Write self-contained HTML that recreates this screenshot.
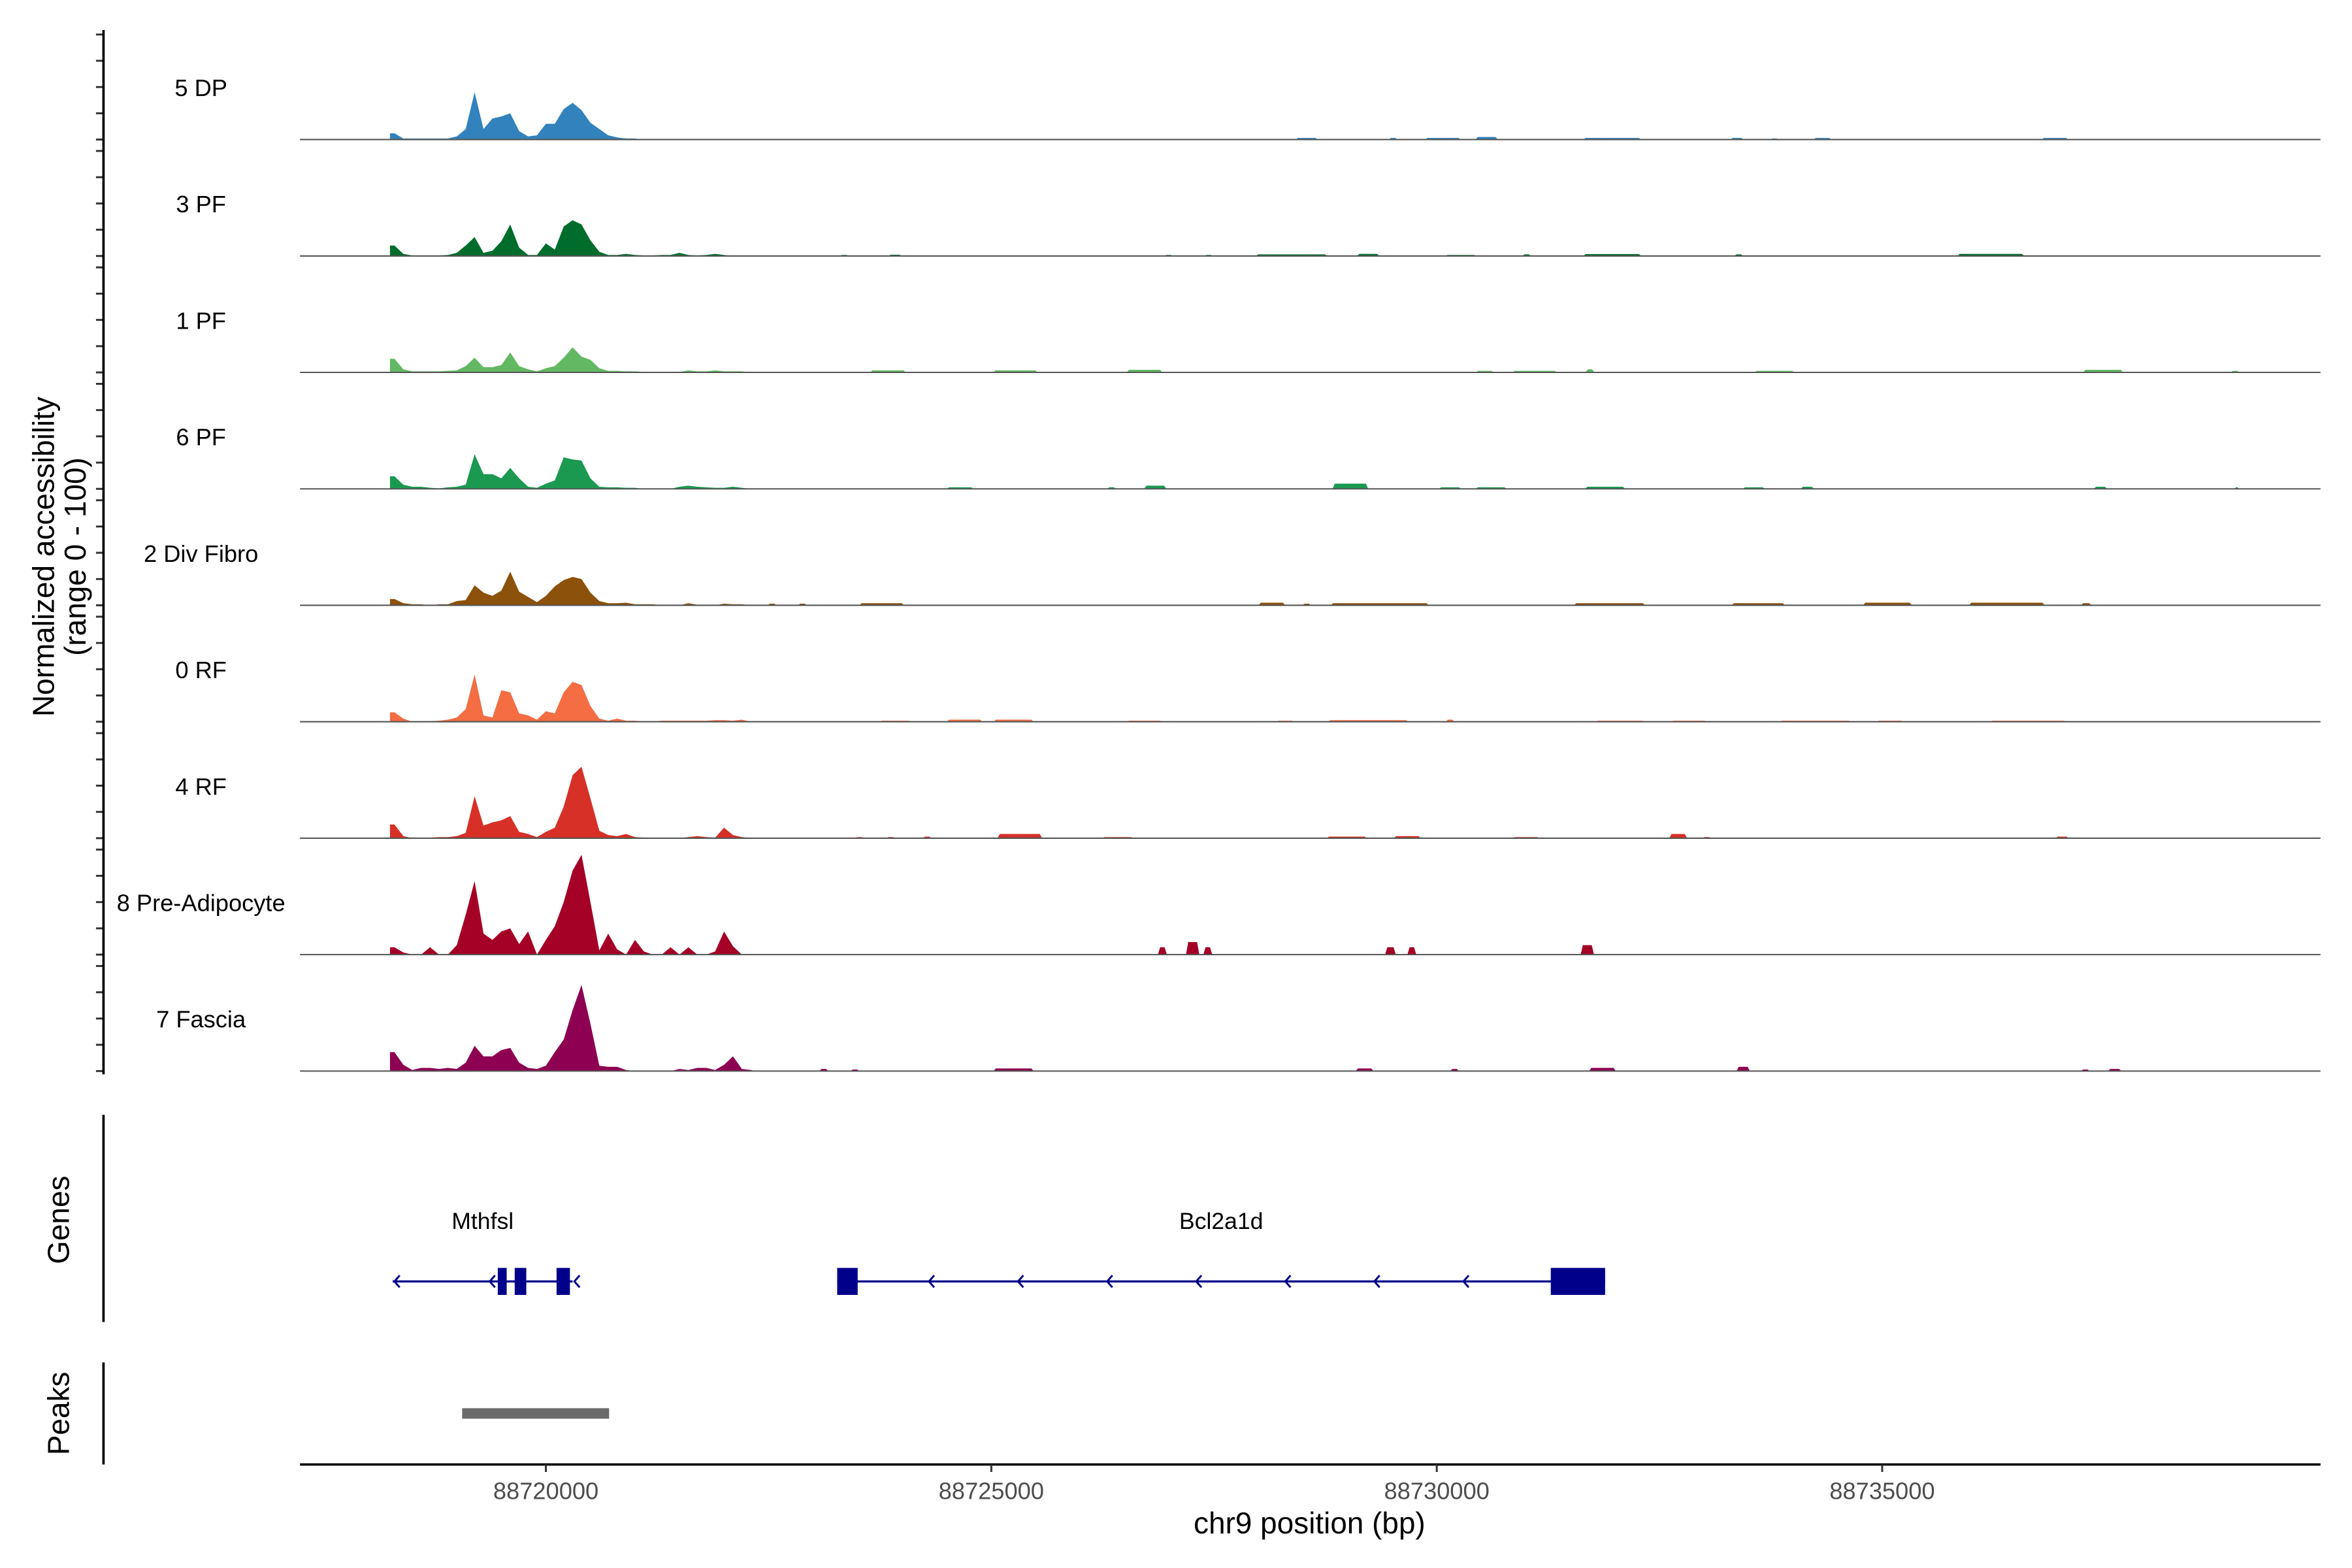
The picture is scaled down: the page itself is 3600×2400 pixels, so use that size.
<!DOCTYPE html>
<html><head><meta charset="utf-8"><style>
html,body{margin:0;padding:0;background:#fff;}
svg{display:block;font-family:"Liberation Sans",Arial,sans-serif;}
</style></head><body>
<svg id="chart" width="3600" height="2400" viewBox="0 0 1568 1045" preserveAspectRatio="none" xmlns="http://www.w3.org/2000/svg">
<rect x="0" y="0" width="1568" height="1045" fill="#fff"/>
<g id="tracks"></g>
<g id="yaxis"></g>
<text transform="translate(36,371) rotate(-90)" text-anchor="middle" font-size="20" fill="#000">Normalized accessibility</text>
<text transform="translate(57,371) rotate(-90)" text-anchor="middle" font-size="20" fill="#000">(range 0 - 100)</text>
<g id="genes"></g>
<text transform="translate(46,813) rotate(-90)" text-anchor="middle" font-size="20" fill="#000">Genes</text>
<line x1="69" y1="743" x2="69" y2="881" stroke="#000" stroke-width="1.6"/>
<g id="peaks"></g>
<text transform="translate(46,942) rotate(-90)" text-anchor="middle" font-size="20" fill="#000">Peaks</text>
<line x1="69" y1="908" x2="69" y2="976" stroke="#000" stroke-width="1.6"/>
<g id="xaxis"></g>
<text x="873" y="1022" text-anchor="middle" font-size="20" fill="#000">chr9 position (bp)</text>
</svg>
<script>
// ---- data (positions in kb on chr9, values are normalized accessibility 0-100) ----
const trackNames = ["5 DP","3 PF","1 PF","6 PF","2 Div Fibro","0 RF","4 RF","8 Pre-Adipocyte","7 Fascia"];
const trackColors = ["#3182bd","#006d2c","#63b863","#1b9950","#8c510a","#f46d43","#d73027","#a50026","#8e0152"];
const binStartKb = 88718.25;
const binSizeKb = 0.1;
const cov5DP = [6,1,1,1,1,1,1,3,10,45,10,20,22,25,8,3,4,15,15,29,35,28,16,10,4,2,1,1,0,0,0,0,0,0,0,0,0,0,0,0,0];
const cov3PF = [10,2,0.5,0.5,0.5,0.5,1,3,10,18,3,5,14,30,8,1,1,12,6,28,34,30,15,4,1,1,2,1,0.5,0.5,1,1,3,1,0.5,1,2,1,0,0,0];
const cov1PF = [13,3,1,1,1,1,1.5,2,6,14,5,5,7,19,6,3,1,4,6,14,24,15,12,4,1.5,1.5,1,1,0.5,0,0,0,0.5,2,1,1,2,1,1,1,0];
const cov6PF = [12,4,2,2,1,0.5,1.5,2,4,33,14,14,10,20,10,2,1,5,8,30,28,27,10,2,1.5,1.5,1,1,0,0,0,0,2,3,2,1.5,1,1,2,1,0];
const cov2DF = [6,2,1,1,0,1,1,4,5,19,12,9,14,32,13,8,3,9,18,24,27,25,12,4,2,2,2.5,1,1,1,0,0,0,2,0.5,0,0,1.5,1,1,0];
const cov0RF = [9,3,0,0,0.5,1,2,4,12,45,6,4,30,28,8,6,2,10,8,28,38,35,15,3,1,3,1,1,0,0,1,1,1,1,1,1,1.5,1.5,1,2,0];
const cov4RF = [13,2,0,0,0.5,1,1,2,5,40,12,15,17,21,6,4,1,6,10,30,60,68,38,7,3,2,4,1,0.5,0.5,0.5,0,0,1,2,1,0.5,10,3,1,0];
const cov8PA = [7,2,0,0,7,0,0,9,38,70,20,14,22,25,10,22,0,14,27,50,80,95,50,4,20,5,0,14,3,0,0,7,0,7,0,0,3,22,8,0,0];
const cov7FA = [18,6,1,3,3,2,3,2,8,24,14,14,20,22,8,3,2,5,18,30,58,82,45,5,4,4,1,0,0,0,0,0,2,1,3,3,1,6,14,2,1];
// distant small peaks: [centerKb, widthKb, value]
const bumps5DP = [[88728.54,0.25,1.5],[88729.51,0.1,1.5],[88730.07,0.4,1.5],[88730.56,0.25,2.5],[88731.97,0.65,1.5],[88733.37,0.15,1.5],[88733.79,0.1,1],[88734.33,0.2,1.5],[88736.94,0.3,1.5]];
const bumps3PF = [[88723.35,0.1,1],[88723.92,0.15,1.2],[88726.99,0.1,1],[88727.44,0.1,1],[88728.37,0.8,1.5],[88729.23,0.25,2],[88730.27,0.35,1],[88731.01,0.1,1.5],[88731.97,0.65,1.8],[88733.39,0.1,1.5],[88736.22,0.75,2]];
const bumps1PF = [[88723.84,0.4,2],[88725.27,0.5,2],[88726.72,0.4,2.5],[88730.54,0.2,1.5],[88731.10,0.5,1.5],[88731.72,0.1,3],[88733.79,0.45,1.5],[88737.48,0.45,2.5],[88738.96,0.1,1.5]];
const bumps6PF = [[88724.65,0.3,1.5],[88726.35,0.1,1.5],[88726.84,0.25,3],[88729.03,0.4,5],[88730.15,0.25,1.5],[88730.61,0.35,1.5],[88731.89,0.45,2],[88733.56,0.25,1.5],[88734.16,0.15,2],[88737.45,0.15,2],[88738.98,0.05,1.5]];
const bumps2DF = [[88722.54,0.1,1.5],[88722.88,0.1,1.5],[88723.77,0.5,2],[88728.15,0.3,2.5],[88728.54,0.1,1.5],[88729.36,1.1,2],[88731.94,0.8,2],[88733.61,0.6,2],[88735.06,0.55,2.5],[88736.40,0.85,2.5],[88737.29,0.12,2]];
const bumps0RF = [[88723.92,0.35,1],[88724.70,0.4,2],[88725.25,0.45,2],[88726.72,0.4,1],[88728.30,0.2,1],[88729.23,0.9,1.5],[88730.15,0.1,2],[88732.06,0.55,1],[88732.83,0.4,1],[88734.25,0.8,1],[88735.09,0.3,1],[88736.64,0.85,1]];
const bumps4RF = [[88723.52,0.1,1],[88723.87,0.1,1],[88724.28,0.1,1.5],[88725.32,0.5,4],[88726.42,0.35,1],[88728.99,0.45,1.5],[88729.67,0.3,2],[88731.00,0.3,1],[88732.71,0.2,4],[88733.03,0.1,1],[88737.02,0.15,1.5]];
const bumps8PA = [[88726.92,0.1,7],[88727.26,0.15,12],[88727.43,0.1,7],[88729.48,0.12,7],[88729.72,0.1,7],[88731.69,0.15,9]];
const bumps7FA = [[88723.12,0.1,2],[88723.47,0.1,1.5],[88725.25,0.45,2.5],[88729.19,0.2,2.5],[88730.20,0.1,2],[88731.86,0.3,3],[88733.44,0.15,4],[88737.28,0.1,1.5],[88737.61,0.15,2]];
const coverage = [cov5DP,cov3PF,cov1PF,cov6PF,cov2DF,cov0RF,cov4RF,cov8PA,cov7FA];
const bumps = [bumps5DP,bumps3PF,bumps1PF,bumps6PF,bumps2DF,bumps0RF,bumps4RF,bumps8PA,bumps7FA];
const xTicks = [88720000,88725000,88730000,88735000];
const xTickLabels = ["88720000","88725000","88730000","88735000"];
const yTicks = [0,25,50,75,100];
const geneNames = ["Mthfsl","Bcl2a1d"];
const geneSpans = [[88718.28,88720.30],[88723.27,88731.89]];
const geneExons = [[[88719.46,88719.56],[88719.65,88719.78],[88720.12,88720.27]],[[88723.27,88723.50],[88731.28,88731.89]]];
const geneChevrons = [[88718.30,88719.37,88720.32],[88724.30,88725.30,88726.30,88727.30,88728.30,88729.30,88730.30]];
const peakRanges = [[88719.06,88720.71]];

// ---- scales ----
const NS = "http://www.w3.org/2000/svg";
const xMinKb = 88717.24, xMaxKb = 88739.92, plotL = 200, plotR = 1547;
function xs(kb){ return plotL + (kb - xMinKb) / (xMaxKb - xMinKb) * (plotR - plotL); }
const base0 = 93, trackStep = 77.6, yPx = 0.7;
function baseY(i){ return base0 + i * trackStep; }
function ys(i, v){ return baseY(i) - v * yPx; }
function mk(tag, attrs, parent){ const e = document.createElementNS(NS, tag); for (const k in attrs) e.setAttribute(k, attrs[k]); parent.appendChild(e); return e; }

const gT = document.getElementById('tracks');
const gY = document.getElementById('yaxis');
for (let i = 0; i < trackNames.length; i++){
  const col = trackColors[i], b = baseY(i), cov = coverage[i];
  let d = "M" + xs(binStartKb) + "," + b;
  cov.forEach((v, j) => {
    const xc = xs(binStartKb + binSizeKb * (j + 0.5));
    if (j === 0) d += " L" + xs(binStartKb) + "," + ys(i, v);
    d += " L" + xc + "," + ys(i, v);
  });
  const endKb = binStartKb + binSizeKb * cov.length;
  d += " L" + xs(endKb) + "," + b + " Z";
  const p = mk('path', {d: d, fill: col, stroke: 'none'}, gT);
  
  
  bumps[i].forEach(bp => {
    const x0 = xs(bp[0] - bp[1] / 2), x1 = xs(bp[0] + bp[1] / 2), yv = ys(i, bp[2]);
    const w = Math.min(1.5, (x1 - x0) / 3);
    const q = mk('path', {d: "M" + x0 + "," + b + " L" + (x0 + w) + "," + yv + " L" + (x1 - w) + "," + yv + " L" + x1 + "," + b + " Z", fill: col}, gT);
    
    
  });
  const ln = mk('line', {x1: plotL, x2: plotR, y1: b, y2: b, stroke: '#555', 'stroke-width': 0.9}, gT);
  
  
  const t = mk('text', {x: 134, y: b - 29, 'text-anchor': 'middle', 'font-size': 15.8, fill: '#000'}, gT);
  t.textContent = trackNames[i];
  
  
  yTicks.forEach(v => {
    const tk = mk('line', {x1: 64, x2: 69, y1: ys(i, v), y2: ys(i, v), stroke: '#333', 'stroke-width': 1.3}, gY);
    
    
  });
}
const yl = mk('line', {x1: 69, x2: 69, y1: 20, y2: 716, stroke: '#000', 'stroke-width': 1.6}, gY);



// genes
const gG = document.getElementById('genes');
const geneY = 854, exonH = 18, navy = '#00008b';
geneNames.forEach((nm, gi) => {
  const s = geneSpans[gi];
  const l = mk('line', {x1: xs(s[0]), x2: xs(s[1]), y1: geneY, y2: geneY, stroke: navy, 'stroke-width': 1.4}, gG);
  
  
  geneExons[gi].forEach(ex => {
    const r = mk('rect', {x: xs(ex[0]), y: geneY - exonH / 2, width: xs(ex[1]) - xs(ex[0]), height: exonH, fill: navy}, gG);
    
    
  });
  geneChevrons[gi].forEach(c => {
    const x = xs(c);
    const ch = mk('path', {d: "M" + (x + 3.5) + "," + (geneY - 4) + " L" + x + "," + geneY + " L" + (x + 3.5) + "," + (geneY + 4), fill: 'none', stroke: navy, 'stroke-width': 1.3}, gG);
    
    
  });
  const t = mk('text', {x: (xs(s[0]) + xs(s[1])) / 2, y: 819, 'text-anchor': 'middle', 'font-size': 15.5, fill: '#000'}, gG);
  t.textContent = nm;
  
  
});

// peaks
const gP = document.getElementById('peaks');
peakRanges.forEach(pr => {
  const r = mk('rect', {x: xs(pr[0]), y: 938.5, width: xs(pr[1]) - xs(pr[0]), height: 7, fill: '#6b6b6b'}, gP);
  
  
});

// x axis
const gX = document.getElementById('xaxis');
const xl = mk('line', {x1: plotL, x2: plotR, y1: 976, y2: 976, stroke: '#000', 'stroke-width': 1.6}, gX);


xTicks.forEach((v, k) => {
  const x = xs(v / 1000);
  const tk = mk('line', {x1: x, x2: x, y1: 976, y2: 981, stroke: '#333', 'stroke-width': 1.3}, gX);
  
  
  const t = mk('text', {x: x, y: 999, 'text-anchor': 'middle', 'font-size': 15.8, fill: '#4d4d4d'}, gX);
  t.textContent = xTickLabels[k];
  
  
});
</script>
</body></html>
